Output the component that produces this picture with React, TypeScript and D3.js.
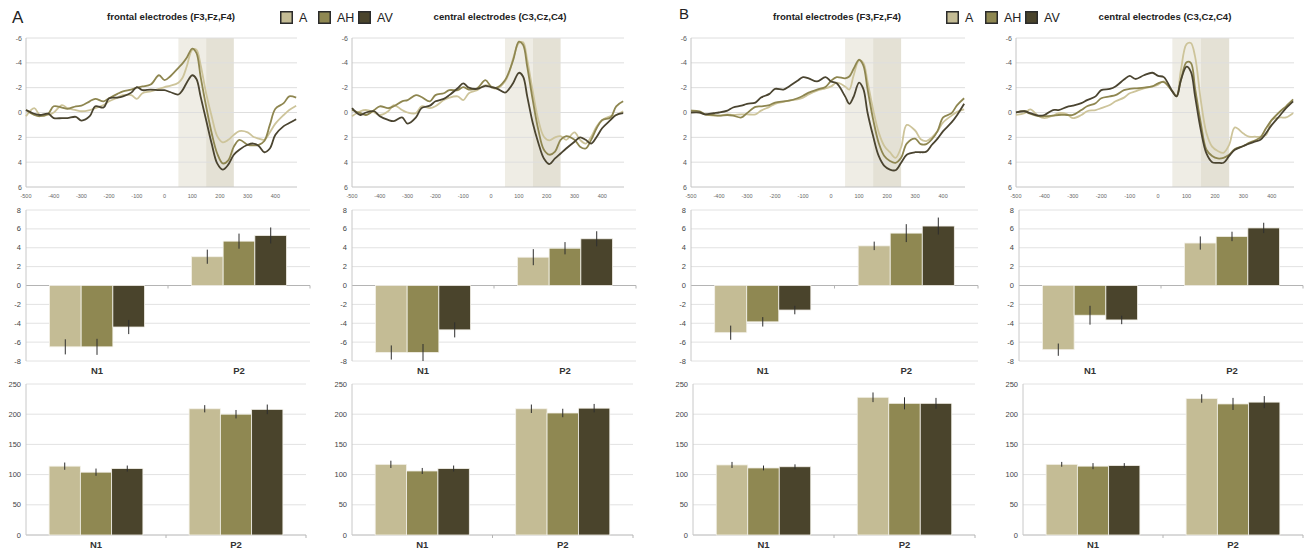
import React from "react";
import * as d3 from "d3";

const FONT = "'Liberation Sans', Arial, Helvetica, sans-serif";

// ---------- shared categories & ticks ----------
const conditions = ["A", "AH", "AV"];
const components = ["N1", "P2"];
const lineColors = ["#cdc49a", "#8e8650", "#4a4430"];
const barColors = ["#c4bc95", "#8f8852", "#4a442c"];

const erpDomain = [-500, 478];
const erpXTicks = [-500, -400, -300, -200, -100, 0, 100, 200, 300, 400];
const erpYTicks = [-6, -4, -2, 0, 2, 4, 6];
const ampYTicks = [8, 6, 4, 2, 0, -2, -4, -6, -8];
const latYTicks = [0, 50, 100, 150, 200, 250];
const windowN1 = [50, 150];
const windowP2 = [150, 250];

const erpTimes = [-500, -470, -450, -420, -400, -370, -350, -320, -300, -270, -250, -220, -200, -170, -150, -120, -100, -80, -50, -20, 0, 20, 50, 65, 80, 100, 115, 130, 150, 170, 190, 210, 230, 250, 270, 300, 320, 340, 360, 380, 400, 430, 450, 475];

// ---------- ERP traces (µV) ----------
// A – frontal
const erpAFrontalA = [0.3, -0.35, 0.2, 0.2, 0.0, -0.6, -0.35, -0.2, -0.1, -0.2, -0.35, -0.6, -0.9, -1.2, -1.4, -1.4, -1.1, -1.55, -1.7, -1.9, -2.05, -2.15, -2.4, -2.8, -3.7, -5.05, -5.05, -3.85, -1.55, 0.3, 1.9, 2.4, 2.2, 1.8, 1.5, 1.6, 1.95, 2.1, 2.2, 1.6, 0.9, 0.2, -0.2, -0.55];
const erpAFrontalAH = [-0.2, 0.2, 0.3, 0.1, -0.5, -0.4, -0.3, -0.5, -0.55, -0.9, -1.1, -0.9, -1.15, -1.5, -1.7, -1.85, -2.0, -2.1, -2.25, -3.0, -2.6, -2.9, -3.6, -3.95, -4.4, -5.15, -4.8, -2.9, -0.5, 1.65, 3.3, 4.1, 3.85, 2.75, 2.2, 2.6, 2.65, 2.6, 2.3, 1.0, -0.3, -0.75, -1.3, -1.2];
const erpAFrontalAV = [-0.2, 0.1, 0.2, 0.1, 0.45, 0.45, 0.45, 0.35, 0.65, 0.3, -0.5, -0.4, -1.15, -1.2, -1.3, -1.6, -2.05, -1.8, -1.85, -1.8, -1.8, -1.65, -1.45, -1.8, -2.4, -3.0, -2.7, -1.3, 0.6, 2.5, 4.1, 4.6, 4.2, 3.4, 3.0, 2.6, 2.5, 2.7, 3.2, 2.9, 1.8, 1.1, 0.85, 0.55];
// A – central
const erpACentralA = [0.3, -0.1, -0.2, 0.0, 0.2, -0.1, -0.6, -0.2, 0.0, 0.05, -0.5, -0.35, -0.5, -1.0, -1.2, -1.3, -1.0, -1.55, -1.8, -2.2, -2.05, -1.9, -2.5, -3.2, -4.4, -5.6, -5.65, -4.25, -1.7, 0.6, 1.95, 2.25, 2.0, 1.9, 2.2, 1.6, 2.2, 2.5, 1.95, 1.1, 0.6, 0.3, 0.2, -0.1];
const erpACentralAH = [-0.2, 0.05, 0.2, -0.2, -0.5, -0.35, -0.5, -0.9, -1.0, -1.4, -1.25, -0.9, -1.4, -1.55, -1.8, -1.8, -2.05, -1.85, -1.95, -2.6, -2.1, -2.0, -2.6, -3.3, -4.25, -5.7, -5.45, -3.7, -1.0, 1.4, 3.0, 3.4, 3.15, 2.2, 1.9, 2.2, 2.75, 2.9, 2.2, 1.25, 0.6, 0.4, -0.5, -0.9];
const erpACentralAV = [-0.35, 0.2, 0.0, -0.1, 0.3, 0.6, 0.7, 0.4, 0.9, 0.4, -0.35, -0.55, -0.9, -1.1, -1.4, -1.95, -2.35, -2.0, -1.9, -2.15, -2.05, -1.95, -1.6, -1.9, -2.4, -3.2, -2.9, -1.3, 0.85, 2.45, 3.7, 4.15, 3.7, 3.3, 2.9, 2.35, 2.0, 2.2, 2.5, 1.95, 1.25, 0.6, 0.2, 0.05];
// B – frontal
const erpBFrontalA = [-0.15, 0.0, 0.15, 0.25, 0.25, 0.15, 0.2, 0.15, 0.15, 0.15, -0.15, -0.45, -0.7, -0.85, -0.95, -1.05, -1.2, -1.45, -1.75, -1.95, -2.1, -2.4, -2.1, -1.85, -2.95, -4.2, -4.0, -2.5, -0.25, 1.6, 2.7, 3.2, 3.65, 2.8, 1.0, 1.45, 2.15, 2.3, 2.0, 1.5, 0.8, 0.25, -0.05, -0.25];
const erpBFrontalAH = [-0.15, -0.1, 0.15, 0.2, 0.25, 0.2, 0.25, 0.4, 0.05, -0.45, -0.5, -0.6, -0.8, -0.9, -0.95, -1.15, -1.35, -1.6, -1.85, -2.05, -2.55, -2.85, -2.75, -2.9, -3.5, -4.25, -3.8, -1.9, 0.55, 2.45, 3.5, 3.9, 4.05, 3.65, 2.5, 2.1, 2.55, 2.55, 2.15, 1.5, 0.4, 0.05, -0.6, -1.15];
const erpBFrontalAV = [0.0, 0.0, 0.15, 0.05, 0.0, -0.15, -0.4, -0.55, -0.7, -0.8, -1.2, -1.5, -1.9, -1.85, -2.1, -2.55, -2.85, -2.75, -2.5, -2.85, -2.5, -2.35, -1.3, -0.7, -1.25, -2.4, -1.9, 0.0, 1.9, 3.5, 4.3, 4.6, 4.65, 4.05, 3.4, 3.2, 3.2, 3.15, 2.6, 2.1, 1.5, 0.8, 0.2, -0.7];
// B – central
const erpBCentralA = [0.2, 0.05, -0.25, 0.3, 0.45, 0.25, 0.05, 0.15, 0.45, 0.2, -0.1, -0.2, -0.35, -0.6, -0.9, -1.2, -1.55, -1.7, -1.95, -2.1, -2.25, -2.5, -1.75, -1.35, -3.4, -5.5, -5.6, -4.5, -1.0, 1.65, 2.75, 3.1, 3.25, 2.6, 1.2, 1.7, 1.95, 1.95, 1.95, 1.8, 0.6, 0.4, 0.4, 0.05];
const erpBCentralAH = [0.0, -0.1, 0.1, 0.3, 0.3, 0.25, 0.2, 0.2, 0.2, -0.2, -0.5, -0.75, -1.15, -1.3, -1.4, -1.8, -1.9, -1.95, -2.0, -2.1, -2.35, -2.45, -1.7, -1.3, -2.6, -4.05, -4.0, -1.95, 0.85, 3.0, 3.5, 3.7, 3.65, 3.4, 2.95, 2.7, 2.45, 2.25, 2.0, 1.25, 0.6, -0.1, -0.5, -1.05];
const erpBCentralAV = [0.0, -0.1, 0.05, 0.25, 0.2, -0.2, -0.2, -0.45, -0.55, -0.75, -1.0, -1.3, -1.8, -1.9, -2.1, -2.65, -2.95, -2.7, -3.0, -3.2, -2.95, -2.85, -1.7, -1.3, -2.6, -3.7, -3.3, -1.3, 1.4, 3.3, 4.0, 4.05, 4.05, 3.5, 3.0, 2.7, 2.5, 2.35, 2.2, 1.65, 1.0, 0.2, -0.35, -0.9];

// ---------- peak amplitudes (µV) [N1, P2] x [A, AH, AV] ----------
const ampAFrontal = [[-6.5, -6.5, -4.4], [3.05, 4.7, 5.3]];
const ampAFrontalErr = [[0.8, 0.85, 0.75], [0.75, 0.8, 0.85]];
const ampACentral = [[-7.1, -7.1, -4.7], [3.0, 3.95, 4.95]];
const ampACentralErr = [[0.75, 0.9, 0.8], [0.85, 0.65, 0.8]];
const ampBFrontal = [[-5.0, -3.85, -2.6], [4.2, 5.55, 6.3]];
const ampBFrontalErr = [[0.75, 0.5, 0.45], [0.45, 0.95, 0.9]];
const ampBCentral = [[-6.8, -3.15, -3.65], [4.5, 5.2, 6.1]];
const ampBCentralErr = [[0.65, 1.0, 0.45], [0.7, 0.5, 0.55]];

// ---------- peak latencies (ms) ----------
const latAFrontal = [[114, 104, 110], [209, 200, 208]];
const latAFrontalErr = [[6, 6, 5], [6, 7, 8]];
const latACentral = [[117, 106, 110], [209, 202, 210]];
const latACentralErr = [[6, 5, 5], [7, 7, 7]];
const latBFrontal = [[116, 111, 113], [228, 218, 218]];
const latBFrontalErr = [[5, 4, 4], [8, 10, 9]];
const latBCentral = [[117, 114, 115], [226, 217, 220]];
const latBCentralErr = [[4, 5, 4], [7, 10, 10]];

// ---------- layout ----------
const ERP_TOP = 38;
const ERP_BOTTOM = 187;
const AMP_TOP = 210;
const AMP_BOTTOM = 361;
const LAT_TOP = 384;
const LAT_BOTTOM = 535;

const panels = [
  { title: "frontal electrodes (F3,Fz,F4)", titleX: 171, erpX: [26, 297], ampX: [26, 310], latX: [26, 306],
    erp: [erpAFrontalA, erpAFrontalAH, erpAFrontalAV], amp: ampAFrontal, ampErr: ampAFrontalErr, lat: latAFrontal, latErr: latAFrontalErr },
  { title: "central electrodes (C3,Cz,C4)", titleX: 500, erpX: [352, 624], ampX: [352, 636], latX: [352, 633],
    erp: [erpACentralA, erpACentralAH, erpACentralAV], amp: ampACentral, ampErr: ampACentralErr, lat: latACentral, latErr: latACentralErr },
  { title: "frontal electrodes (F3,Fz,F4)", titleX: 837, erpX: [691, 965], ampX: [691, 978], latX: [693, 975],
    erp: [erpBFrontalA, erpBFrontalAH, erpBFrontalAV], amp: ampBFrontal, ampErr: ampBFrontalErr, lat: latBFrontal, latErr: latBFrontalErr },
  { title: "central electrodes (C3,Cz,C4)", titleX: 1165, erpX: [1016, 1294], ampX: [1019, 1303], latX: [1023, 1303],
    erp: [erpBCentralA, erpBCentralAH, erpBCentralAV], amp: ampBCentral, ampErr: ampBCentralErr, lat: latBCentral, latErr: latBCentralErr },
];

const legendBoxX = [[280, 318, 358], [946, 985, 1025]];

function ErpChart({ p }: any) {
  const x = d3.scaleLinear().domain(erpDomain).range(p.erpX);
  const y = d3.scaleLinear().domain([-6, 6]).range([ERP_TOP, ERP_BOTTOM]);
  const line = d3
    .line<number>()
    .x((_, i) => x(erpTimes[i]))
    .y((d) => y(d))
    .curve(d3.curveCatmullRom.alpha(0.5));
  return (
    <g>
      <rect x={x(windowN1[0])} y={y(-6)} width={x(windowN1[1]) - x(windowN1[0])} height={y(6) - y(-6)} fill="#efede5" />
      <rect x={x(windowP2[0])} y={y(-6)} width={x(windowP2[1]) - x(windowP2[0])} height={y(6) - y(-6)} fill="#e4e1d5" />
      {erpYTicks.map((t) => (
        <line key={t} x1={p.erpX[0]} x2={p.erpX[1]} y1={y(t)} y2={y(t)} stroke={t === 6 ? "#c4c4c4" : "#dedede"} strokeWidth={1} />
      ))}
      <line x1={p.erpX[0]} x2={p.erpX[0]} y1={y(-6)} y2={y(6)} stroke="#c4c4c4" />
      {erpYTicks.map((t) => (
        <text key={t} x={p.erpX[0] - 4} y={y(t) + 2.5} textAnchor="end" fontSize={7} fill="#555" fontFamily={FONT}>{t}</text>
      ))}
      {erpXTicks.map((t) => (
        <text key={t} x={x(t)} y={ERP_BOTTOM + 11} textAnchor="middle" fontSize={5.5} fill="#666" fontFamily={FONT}>{t}</text>
      ))}
      {p.erp.map((s: number[], i: number) => (
        <path key={i} d={line(s) || ""} fill="none" stroke={lineColors[i]} strokeWidth={1.8} strokeLinejoin="round" />
      ))}
    </g>
  );
}

function BarChart({ xr, top, bottom, domain, ticks, values, errs }: any) {
  const y = d3.scaleLinear().domain(domain).range([bottom, top]);
  const xb = d3.scaleBand().domain(components).range(xr);
  const bw = xb.bandwidth();
  const xi = d3.scaleBand().domain(conditions).range([bw * 0.165, bw * 0.835]);
  const y0 = y(0);
  return (
    <g>
      {ticks.map((t: number) => (
        <line key={t} x1={xr[0]} x2={xr[1]} y1={y(t)} y2={y(t)} stroke={t === 0 ? "#b4b4b4" : "#e2e2e2"} />
      ))}
      <line x1={xr[0]} x2={xr[0]} y1={y(domain[1])} y2={y(domain[0])} stroke="#c8c8c8" />
      {ticks.map((t: number) => (
        <text key={t} x={xr[0] - 5} y={y(t) + 2.6} textAnchor="end" fontSize={7.5} fill="#444" fontFamily={FONT}>{t}</text>
      ))}
      {components.map((c) => (
        <line key={c} x1={(xb(c) as number) + bw} x2={(xb(c) as number) + bw} y1={y0} y2={y0 + 3} stroke="#b4b4b4" />
      ))}
      {components.map((c, ci) =>
        conditions.map((cond, j) => {
          const v = values[ci][j];
          const bx = (xb(c) as number) + (xi(cond) as number);
          const yTop = Math.min(y(v), y0);
          const h = Math.abs(y(v) - y0);
          return (
            <g key={c + cond}>
              <rect x={bx} y={yTop} width={xi.bandwidth()} height={h} fill={barColors[j]} stroke="#f4f2ea" strokeWidth={0.8} />
              <line x1={bx + xi.bandwidth() / 2} x2={bx + xi.bandwidth() / 2} y1={y(v - errs[ci][j])} y2={y(v + errs[ci][j])} stroke="#2e2e2e" strokeWidth={1} />
            </g>
          );
        })
      )}
      {components.map((c) => (
        <text key={c} x={(xb(c) as number) + bw / 2} y={bottom + 13} textAnchor="middle" fontSize={9.5} fontWeight="bold" fill="#333" fontFamily={FONT}>{c}</text>
      ))}
    </g>
  );
}

export default function App() {
  return (
    <svg width={1304} height={550} style={{ position: "absolute", left: 0, top: 0, background: "#fff" }} fontFamily={FONT}>
      <rect x={0} y={0} width={1304} height={550} fill="#fff" />
      <text x={12} y={23} fontSize={17} fill="#222">A</text>
      <text x={679} y={19} fontSize={15} fill="#222">B</text>
      {panels.map((p, i) => (
        <g key={i}>
          <text x={p.titleX} y={20} textAnchor="middle" fontSize={9.6} fontWeight="bold" fill="#222">{p.title}</text>
          <ErpChart p={p} />
          <BarChart xr={p.ampX} top={AMP_TOP} bottom={AMP_BOTTOM} domain={[-8, 8]} ticks={ampYTicks} values={p.amp} errs={p.ampErr} />
          <BarChart xr={p.latX} top={LAT_TOP} bottom={LAT_BOTTOM} domain={[0, 250]} ticks={latYTicks} values={p.lat} errs={p.latErr} />
        </g>
      ))}
      {legendBoxX.map((xs, k) => (
        <g key={k}>
          {conditions.map((c, j) => (
            <g key={c}>
              <rect x={xs[j] + 0.75} y={11.75} width={11.5} height={11.5} fill={barColors[j]} stroke="#2b2b2b" strokeWidth={1.5} />
              <text x={xs[j] + 19} y={22} fontSize={12.5} fill="#222">{c}</text>
            </g>
          ))}
        </g>
      ))}
    </svg>
  );
}
